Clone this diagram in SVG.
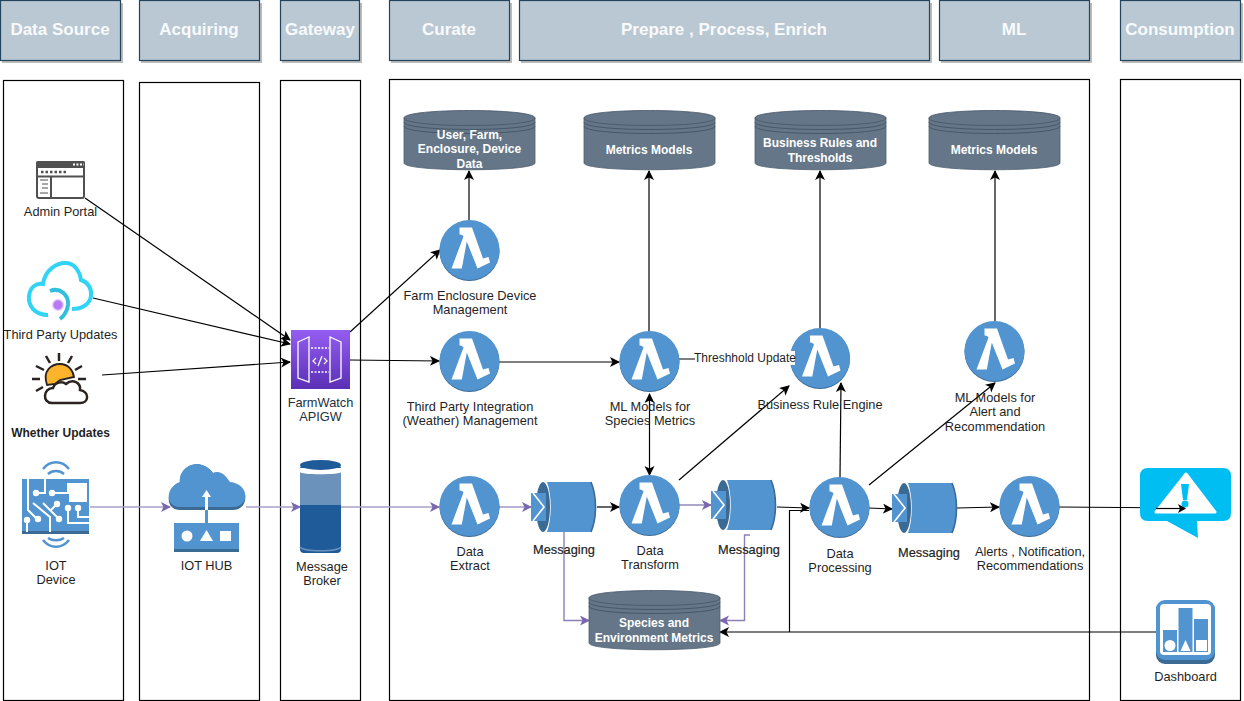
<svg xmlns="http://www.w3.org/2000/svg" xmlns:xlink="http://www.w3.org/1999/xlink" width="1244" height="701" viewBox="0 0 1244 701">
<style>
text{font-family:"Liberation Sans",Arial,sans-serif;font-size:12.8px;fill:#1f1f1f;text-anchor:middle}
.hd{fill:#bac8d3;stroke:#23445d;stroke-width:1.2}
.sh{fill:#bdbdbd}
.ht{font-size:17px;font-weight:bold;fill:#f8fafb}
.pn{fill:#fff;stroke:#000;stroke-width:1.2}
.dbt{font-size:12px;font-weight:bold;fill:#fff}
.b{fill:none;stroke:#000;stroke-width:1.2}
.p{fill:none;stroke:#8c7fb8;stroke-width:1.4}
.pl{fill:none;stroke:#a89fc9;stroke-width:1.6}
</style>
<defs>
<marker id="ak" markerUnits="userSpaceOnUse" markerWidth="12" markerHeight="12" refX="9" refY="5" orient="auto"><path d="M0 0L10 5L0 10L2.5 5Z" fill="#000"/></marker>
<marker id="ap" markerUnits="userSpaceOnUse" markerWidth="12" markerHeight="12" refX="9" refY="5" orient="auto"><path d="M0 0L10 5L0 10L2.5 5Z" fill="#7a68ad"/></marker>
<marker id="as" markerUnits="userSpaceOnUse" markerWidth="12" markerHeight="12" refX="1" refY="5" orient="auto"><path d="M10 0L0 5L10 10L7.5 5Z" fill="#000"/></marker>
<g id="lam">
<circle cx="0" cy="1" r="30" fill="#3b6a94"/>
<circle cx="0" cy="0" r="30" fill="#5294cf"/>
<path d="M-10 -22.500H2.500L13.500 8.500L19 7L20.500 12.500L8 18.500L-2.700 -8.500L-7.700 18.500H-18L-6 -13.500C-7 -15 -8.500 -15.500 -10 -15.500Z" fill="#fff"/>
</g>
<g id="db">
<path d="M0 8C0 2 131 2 131 8V53C131 62 0 62 0 53Z" fill="#647687" stroke="#4e5f70" stroke-width="0.8"/>
<path d="M0 8C0 -2 131 -2 131 8C131 18 0 18 0 8Z" fill="#647687" stroke="#46566a" stroke-width="0.8"/>
<path d="M0 12C0 22 131 22 131 12M0 16C0 26 131 26 131 16" fill="none" stroke="#3f4f5f" stroke-width="0.8"/>
</g>
<g id="msg">
<path d="M16 0H60C66 14 66 36 60 50H16C21 36 21 14 16 0Z" fill="#5294cf"/>
<path d="M60 0C66 14 66 36 60 50" fill="none" stroke="#3b6a94" stroke-width="1.600"/>
<ellipse cx="12" cy="25" rx="7" ry="25" fill="#3b6a94"/>
<rect x="0" y="11" width="15" height="28" fill="#5294cf"/>
<path d="M2 11L13 25L2 39" fill="none" stroke="#fff" stroke-width="1.600"/>
</g>
<linearGradient id="pg" x1="0" y1="0" x2="0" y2="1"><stop offset="0" stop-color="#945df2"/><stop offset="1" stop-color="#5a30b5"/></linearGradient>
</defs>

<g id="headers">
<rect class="sh" x="2" y="3" width="121" height="60"/><rect class="hd" x="0.500" y="0.500" width="120" height="60"/><text class="ht" x="60" y="35">Data Source</text>
<rect class="sh" x="141" y="3" width="121" height="60"/><rect class="hd" x="139.500" y="0.500" width="120" height="60"/><text class="ht" x="199" y="35">Acquiring</text>
<rect class="sh" x="282" y="3" width="80" height="60"/><rect class="hd" x="280.500" y="0.500" width="79" height="60"/><text class="ht" x="320" y="35">Gateway</text>
<rect class="sh" x="391" y="3" width="121" height="60"/><rect class="hd" x="389.500" y="0.500" width="120" height="60"/><text class="ht" x="449" y="35">Curate</text>
<rect class="sh" x="521" y="3" width="411" height="60"/><rect class="hd" x="519.500" y="0.500" width="410" height="60"/><text class="ht" x="724" y="35">Prepare , Process, Enrich</text>
<rect class="sh" x="941" y="3" width="151" height="60"/><rect class="hd" x="939.500" y="0.500" width="150" height="60"/><text class="ht" x="1014" y="35">ML</text>
<rect class="sh" x="1122" y="3" width="121" height="60"/><rect class="hd" x="1120.500" y="0.500" width="120" height="60"/><text class="ht" x="1180" y="35">Consumption</text>
</g>

<g id="panels">
<rect class="pn" x="3.500" y="80.500" width="120" height="620"/>
<rect class="pn" x="139.500" y="82.500" width="120" height="618"/>
<rect class="pn" x="280.500" y="80.500" width="80" height="620"/>
<rect class="pn" x="389.500" y="79.500" width="700" height="621"/>
<rect class="pn" x="1120.500" y="79.500" width="120" height="621"/>
</g>

<g id="node-admin-portal">
<rect x="37" y="162" width="47" height="36" rx="2" fill="#fff" stroke="#505050" stroke-width="2"/>
<rect x="36" y="161" width="49" height="7" rx="2" fill="#505050"/>
<path d="M37 176.500H84M51 176V198" stroke="#505050" stroke-width="2" fill="none"/>
<path d="M41 172H67" stroke="#505050" stroke-width="2.500" stroke-dasharray="2.500 2" fill="none"/>
<path d="M40 180H48M42 184H48M42 188H48M40 193H48" stroke="#505050" stroke-width="1" fill="none"/>
<path d="M73 164.500H84" stroke="#fff" stroke-width="2" stroke-dasharray="2 1.500"/>
<text x="60.500" y="216">Admin Portal</text>
</g>

<g id="node-third-party">
<path d="M48 315C34 315 28 305 29 296C30 287 36 283 43 284C45 270 57 262 67 263C75 264 80 272 81 280C88 282 92 289 91 296C90 304 82 309 72 309" fill="none" stroke="#32d4f5" stroke-width="4"/>
<path d="M50 291C60 287 69 295 68 305C67 311 64 316 60 319" fill="none" stroke="#32bedd" stroke-width="4"/>
<circle cx="58" cy="305" r="5.500" fill="#b77af4" stroke="#e9d5ff" stroke-width="1.500"/>
<text x="60.500" y="339">Third Party Updates</text>
</g>

<g id="node-weather">
<path d="M59 353V361M46 356L50 363M72 356L68 363M36 366L44 370M82 366L75 370M32 379H40M78 379H86M36 391L43 387" stroke="#2b2320" stroke-width="2.500" fill="none"/>
<path d="M47 385C42 370 52 364 60 364C68 364 73 370 74 377L60 380L55 384Z" fill="#fbb42c" stroke="#2b2320" stroke-width="1.800"/>
<path d="M52 403C42 403 43 388 53 388C55 382 62 381 66 384C73 378 81 383 80 390C90 392 89 403 80 403Z" fill="#fff" stroke="#2b2320" stroke-width="2.500"/>
<text x="60.500" y="437" style="font-size:12px;font-weight:bold">Whether Updates</text>
</g>

<g id="node-iot-device">
<path d="M43 469C50 460 62 460 69 469M48 474C52 470 60 470 64 474" fill="none" stroke="#5294cf" stroke-width="2.500"/>
<rect x="22" y="479" width="67" height="55" fill="#5294cf"/>
<rect x="22" y="531" width="67" height="3" fill="#3b6a94"/>
<rect x="69" y="483" width="18" height="19" fill="#fff"/>
<g fill="none" stroke="#fff" stroke-width="2"><path d="M28 479V510L38 520M45 479V493H36M52 493H68V483M33 503L50 517V532M43 503L59 519M57 504L51 510M27 520V532M68 508V523H89M78 508V517H89"/></g>
<g fill="#fff"><circle cx="36" cy="493" r="3.200"/><circle cx="52" cy="493" r="3.200"/><circle cx="38" cy="519" r="3.200"/><circle cx="27" cy="520" r="3.200"/><circle cx="57" cy="504" r="3.200"/><circle cx="59" cy="519" r="3.200"/><circle cx="68" cy="508" r="3.200"/><circle cx="78" cy="508" r="3.200"/></g>
<path d="M43 540C50 549 62 549 69 540M48 538C52 541 60 541 64 538" fill="none" stroke="#5294cf" stroke-width="2.500"/>
<text x="56" y="570">IOT</text><text x="56" y="584">Device</text>
</g>

<g id="node-iot-hub">
<path d="M180 510C165 510 165 490 180 484C178 466 200 456 213 473C221 470 226 476 230 484C250 484 250 510 233 510Z" fill="#3b6a94" transform="translate(0 0)"/>
<path d="M180 507C165 507 165 487 180 482C178 466 200 456 213 473C221 470 226 476 230 482C250 484 250 507 233 507Z" fill="#5294cf"/>
<rect x="174" y="523" width="65" height="29" fill="#5294cf"/>
<rect x="174" y="549" width="65" height="3" fill="#3b6a94"/>
<path d="M206.500 523V510" stroke="#5294cf" stroke-width="3" fill="none"/>
<path d="M206.500 510V496" stroke="#fff" stroke-width="3" fill="none"/>
<path d="M202 497L206.500 490L211 497Z" fill="#fff"/>
<circle cx="187" cy="536" r="5.500" fill="#fff"/><path d="M200 541L206.500 530L213 541Z" fill="#fff"/><rect x="220" y="531" width="11" height="10" fill="#fff"/>
<text x="206.500" y="570">IOT HUB</text>
</g>

<g id="node-apigw">
<rect x="291" y="330" width="59" height="59" fill="url(#pg)"/>
<path d="M298 342L309 337V382L298 378ZM341 342L330 337V382L341 378Z" fill="none" stroke="#fff" stroke-width="1.300"/>
<path d="M311 348H329M311 372H329" stroke="#fff" stroke-width="1.300" stroke-dasharray="2 1.500"/>
<path d="M316 358L313 361L316 364M324 358L327 361L324 364M322 356L318 366" stroke="#fff" stroke-width="1.200" fill="none"/>
<text x="320.500" y="407" style="fill:#232f3e">FarmWatch</text><text x="320.500" y="421" style="fill:#232f3e">APIGW</text>
</g>

<g id="node-message-broker">
<rect x="300" y="465" width="41" height="88" rx="4" fill="#1f5b98"/>
<rect x="300" y="472" width="41" height="33" fill="#6b92bb"/>
<path d="M300 468H341V472C341 475 300 475 300 472Z" fill="#fff"/>
<ellipse cx="320.500" cy="465" rx="20.500" ry="5" fill="#1f5b98"/>
<path d="M300 547C304 552 337 552 341 547" stroke="#6b92bb" stroke-width="1.500" fill="none"/>
<text x="322" y="571">Message</text><text x="322" y="585">Broker</text>
</g>

<g id="connectors">
<path class="pl" d="M90 507H170" marker-end="url(#ap)"/>
<path class="pl" d="M246 507H300" marker-end="url(#ap)"/>
<path class="pl" d="M341 507H439" marker-end="url(#ap)"/>
<path class="pl" d="M499 507H531" marker-end="url(#ap)"/>
<path class="p" d="M679 505H711" marker-end="url(#ap)"/>
<path class="p" d="M564 532V620.500H589" marker-end="url(#ap)"/>
<path class="p" d="M750 535H744.500V620.500H720" marker-end="url(#ap)"/>
<path class="b" d="M85 198L290 340" marker-end="url(#ak)"/>
<path class="b" d="M93 298L290 344" marker-end="url(#ak)"/>
<path class="b" d="M102 375L290 362" marker-end="url(#ak)"/>
<path class="b" d="M350 332L440 250" marker-end="url(#ak)"/>
<path class="b" d="M350 360L439 361" marker-end="url(#ak)"/>
<path class="b" d="M499 362H619" marker-end="url(#ak)"/>
<path class="b" d="M469 220V171" marker-end="url(#ak)"/>
<path class="b" d="M649 331V171" marker-end="url(#ak)"/>
<path class="b" d="M820 328V171" marker-end="url(#ak)"/>
<path class="b" d="M995 321V171" marker-end="url(#ak)"/>
<path class="b" d="M649.500 394V475" marker-start="url(#as)" marker-end="url(#ak)"/>
<path class="b" d="M679 480L789 386" marker-end="url(#ak)"/>
<path class="b" d="M840 477L841 383" marker-end="url(#ak)"/>
<path class="b" d="M869 485L995 383" marker-end="url(#ak)"/>
<path class="b" d="M597 507H619" marker-end="url(#ak)"/>
<path class="b" d="M777 507L809 508" marker-end="url(#ak)"/>
<path class="b" d="M869 508L892 509" marker-end="url(#ak)"/>
<path class="b" d="M957 508L999 507" marker-end="url(#ak)"/>
<path class="b" d="M1059 507L1186 508" marker-end="url(#ak)"/>
<path class="b" d="M679 359H695M795 358H790"/>
<path class="b" d="M1156 632H720" marker-end="url(#ak)"/>
<path class="b" d="M809 510.500H789.500V632"/>
</g>

<g id="node-db-user"><use xlink:href="#db" href="#db" x="404" y="110"/><text class="dbt" x="469.500" y="139">User, Farm,</text><text class="dbt" x="469.500" y="153">Enclosure, Device</text><text class="dbt" x="469.500" y="168">Data</text></g>
<g id="node-db-metrics1"><use xlink:href="#db" href="#db" x="584" y="110"/><text class="dbt" x="649" y="154">Metrics Models</text></g>
<g id="node-db-rules"><use xlink:href="#db" href="#db" x="755" y="110"/><text class="dbt" x="820" y="147">Business Rules and</text><text class="dbt" x="820" y="162">Thresholds</text></g>
<g id="node-db-metrics2"><use xlink:href="#db" href="#db" x="929" y="110"/><text class="dbt" x="994" y="154">Metrics Models</text></g>
<g id="node-db-species"><use xlink:href="#db" href="#db" x="589" y="590"/><text class="dbt" x="654" y="627">Species and</text><text class="dbt" x="654" y="642">Environment Metrics</text></g>

<g id="node-farm-mgmt"><use xlink:href="#lam" href="#lam" x="469.500" y="250"/><text x="470" y="300">Farm Enclosure Device</text><text x="470" y="314">Management</text></g>
<g id="node-third-party-mgmt"><use xlink:href="#lam" href="#lam" x="469.500" y="361"/><text x="470" y="411">Third Party Integration</text><text x="470" y="425">(Weather) Management</text></g>
<g id="node-ml-species"><use xlink:href="#lam" href="#lam" x="649.500" y="361"/><text x="650" y="411">ML Models for</text><text x="650" y="425">Species Metrics</text></g>
<g id="node-rule-engine"><use xlink:href="#lam" href="#lam" x="820" y="358"/><text x="820" y="409">Business Rule Engine</text></g>
<g id="node-ml-alert"><use xlink:href="#lam" href="#lam" x="994.500" y="351"/><text x="995" y="402">ML Models for</text><text x="995" y="416">Alert and</text><text x="995" y="431">Recommendation</text></g>
<g id="node-data-extract"><use xlink:href="#lam" href="#lam" x="469.500" y="506"/><text x="470" y="556">Data</text><text x="470" y="570">Extract</text></g>
<g id="node-data-transform"><use xlink:href="#lam" href="#lam" x="649.500" y="505"/><text x="650" y="555">Data</text><text x="650" y="569">Transform</text></g>
<g id="node-data-processing"><use xlink:href="#lam" href="#lam" x="839.500" y="507"/><text x="840" y="558">Data</text><text x="840" y="572">Processing</text></g>
<g id="node-alerts"><use xlink:href="#lam" href="#lam" x="1029.500" y="506"/><text x="1030" y="556">Alerts , Notification,</text><text x="1030" y="570">Recommendations</text></g>

<g id="node-msg1"><use xlink:href="#msg" href="#msg" x="531" y="482"/><text x="564" y="554" style="stroke:#1f1f1f;stroke-width:0.200">Messaging</text></g>
<g id="node-msg2"><use xlink:href="#msg" href="#msg" x="711" y="480"/><text x="749" y="554" style="stroke:#1f1f1f;stroke-width:0.200">Messaging</text></g>
<g id="node-msg3"><use xlink:href="#msg" href="#msg" x="892" y="483"/><text x="929" y="557" style="stroke:#1f1f1f;stroke-width:0.200">Messaging</text></g>

<g id="threshold-label"><rect x="695" y="351" width="100" height="14" fill="#fff"/><text x="745" y="362" style="font-size:12px">Threshhold Update</text></g>

<g id="node-alert-icon">
<path d="M1148 468H1223Q1231 468 1231 476V513Q1231 521 1223 521H1197L1198 538L1167 521H1148Q1140 521 1140 513V476Q1140 468 1148 468Z" fill="#00bef2"/>
<path d="M1186 474L1215 512H1156Z" fill="#fff" stroke="#fff" stroke-width="3" stroke-linejoin="round"/>
<path d="M1181 484H1189L1187 500H1183Z" fill="#00bef2"/><circle cx="1185" cy="504" r="3.500" fill="#00bef2"/>
<path d="M1156 508.500H1185" stroke="#000" stroke-width="1.200"/><path d="M1178 504L1186 508.500L1178 513L1180 508.500Z" fill="#000"/>
</g>

<g id="node-dashboard">
<rect x="1156" y="601" width="59" height="63" rx="9" fill="#3b6a94"/>
<rect x="1156" y="600" width="59" height="60" rx="9" fill="#5294cf"/>
<rect x="1160" y="604" width="51" height="51" rx="4" fill="#fff"/>
<rect x="1163" y="630" width="14" height="22" fill="#5294cf"/><rect x="1178.500" y="608" width="14" height="44" fill="#5294cf"/><rect x="1194" y="619" width="14" height="33" fill="#5294cf"/>
<circle cx="1170" cy="645.500" r="5.500" fill="#fff"/><path d="M1180.500 651L1185.500 640L1190.500 651Z" fill="#fff"/><rect x="1196" y="640" width="11" height="11" fill="#fff"/>
<text x="1185.500" y="681">Dashboard</text>
</g>
</svg>
